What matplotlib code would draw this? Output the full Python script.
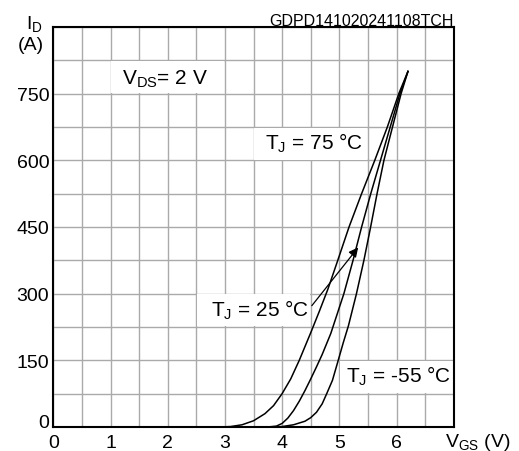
import numpy as np
import matplotlib
matplotlib.use('Agg')
import matplotlib.pyplot as plt
from matplotlib.patches import Rectangle

plt.rcParams['font.family'] = ['Liberation Sans', 'DejaVu Sans']
plt.rcParams['mathtext.fontset'] = 'custom'
plt.rcParams['mathtext.rm'] = 'Liberation Sans'
plt.rcParams['mathtext.it'] = 'Liberation Sans:italic'

# transfer characteristics, V_DS = 2 V
vgs_75 = [0, 2.9, 3.1, 3.3, 3.5, 3.7, 3.85, 4.0, 4.15, 4.3, 4.5, 4.65, 4.8, 4.96, 5.17, 5.39, 5.62, 5.84, 6.04, 6.2]
id_75 = [0, 0, 1, 5, 14, 30, 48, 75, 108, 150, 212, 260, 310, 370, 450, 525, 600, 675, 750, 800]

vgs_25 = [0, 3.75, 3.9, 4.0, 4.1, 4.2, 4.3, 4.4, 4.5, 4.6, 4.7, 4.85, 5.08, 5.24, 5.39, 5.55, 5.72, 5.89, 6.06, 6.2]
id_25 = [0, 0, 2, 8, 20, 37, 58, 82, 108, 135, 163, 210, 300, 375, 450, 525, 600, 675, 750, 800]

vgs_m55 = [0, 3.85, 4.0, 4.2, 4.4, 4.5, 4.6, 4.7, 4.78, 4.88, 4.97, 5.07, 5.16, 5.30, 5.43, 5.54, 5.66, 5.78, 5.93, 6.08, 6.2]
id_m55 = [0, 0, 1, 5, 13, 21, 33, 52, 75, 105, 145, 190, 228, 300, 375, 445, 525, 600, 675, 750, 800]

x_labels = ['0', '1', '2', '3', '4', '5', '6']
y_labels = ['150', '300', '450', '600', '750']

fig = plt.figure(figsize=(5.19, 4.52), dpi=100)
ax = fig.add_axes([0.1027, 0.0531, 0.7715, 0.8850])
ax.set_xlim(0, 7)
ax.set_ylim(0, 900)

xt = np.arange(0, 7.01, 0.5)
yt = np.arange(0, 901, 75)
ax.set_xticks(xt)
ax.set_xticklabels([x_labels[int(t)] if t % 1 == 0 and t < 7 else '' for t in xt])
ax.set_yticks(yt)
ax.set_yticklabels([str(int(t)) if t % 150 == 0 and 0 < t < 900 else '' for t in yt])
ax.tick_params(axis='x', length=0, labelsize=14, pad=5)
ax.tick_params(axis='y', length=0, labelsize=14, pad=3)
ax.grid(True, color='#aaaaaa', lw=1.0)
ax.set_axisbelow(True)
for s in ax.spines.values():
    s.set_linewidth(1.5)

# white label boxes hiding the grid
for (x0, y0) in [(1.0, 750), (3.5, 600), (2.5, 225), (5.0, 75)]:
    ax.add_patch(Rectangle((x0 + 0.012, y0 + 1.5), 2 - 0.024, 75 - 3,
                           fc='white', ec='none', zorder=1))

for vx, iy in [(vgs_75, id_75), (vgs_25, id_25), (vgs_m55, id_m55)]:
    ax.plot(vx, iy, color='black', lw=1.1, zorder=2)

ax.text(1.96, 772, r'$\mathrm{V_{DS}}$= 2 V', ha='center', va='baseline', fontsize=15)
ax.text(4.56, 627, r'$\mathrm{T_J}$ = 75 °C', ha='center', va='baseline', fontsize=15)
ax.text(3.61, 250, r'$\mathrm{T_J}$ = 25 °C', ha='center', va='baseline', fontsize=15)
ax.text(6.03, 103, r'$\mathrm{T_J}$ = -55 °C', ha='center', va='baseline', fontsize=15)

ax.annotate('', xy=(5.33, 404), xytext=(4.52, 273),
            arrowprops=dict(arrowstyle='-|>', color='black', lw=0.9,
                            mutation_scale=14, shrinkA=0, shrinkB=0))

ax.annotate('0', xy=(0, 0), xycoords=('axes fraction', 'data'), xytext=(-3, 0),
            textcoords='offset points', ha='right', va='baseline', fontsize=14)
ax.annotate(r'$\mathrm{I_D}$', xy=(0, 1), xycoords='axes fraction', xytext=(-7.4, -0.7),
            textcoords='offset points', ha='right', va='baseline', fontsize=14)
ax.annotate('(A)', xy=(0, 1), xycoords='axes fraction', xytext=(-6.7, -15.8),
            textcoords='offset points', ha='right', va='baseline', fontsize=14)
ax.annotate(r'$\mathrm{V_{GS}}$ (V)', xy=(6.85, 0), xycoords=('data', 'axes fraction'),
            xytext=(0, -13.6), textcoords='offset points', ha='left', va='baseline', fontsize=14)
ax.annotate('GDPD141020241108TCH', xy=(1, 1), xycoords='axes fraction', xytext=(0, 1.5),
            textcoords='offset points', ha='right', va='baseline', fontsize=11.5)

fig.savefig('out.png', dpi=100)
